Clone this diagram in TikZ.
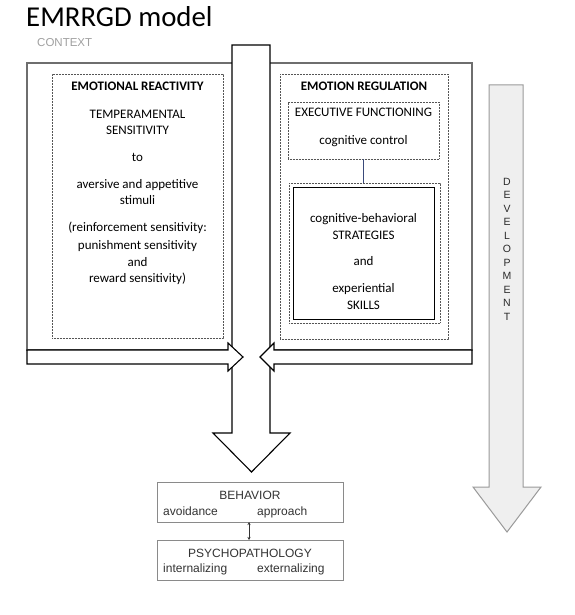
\documentclass[tikz,border=0pt]{standalone}
\usepackage{fontspec}
\setmainfont{Carlito}
\newfontfamily\arialf{Liberation Sans}
\usetikzlibrary{arrows.meta}
\definecolor{ctxgray}{HTML}{6E6E6E}
\definecolor{ctxtext}{HTML}{A0A0A0}
\definecolor{dotgray}{HTML}{555555}
\definecolor{devfill}{HTML}{EFEFEF}
\definecolor{devline}{HTML}{9A9A9A}
\definecolor{botline}{HTML}{8A8A8A}
\definecolor{bottext}{HTML}{333333}
\definecolor{devtext}{HTML}{2A2A2A}
\definecolor{linkblue}{HTML}{3A4A7A}
\tikzset{
  boxnw/.style={inner sep=0pt, outer sep=0pt, anchor=north west},
  ctxbox/.style={boxnw, draw=ctxgray, line width=1.5pt},
  dotbox/.style={boxnw, draw=dotgray, line width=0.6pt, dash pattern=on 0.7pt off 0.8pt},
  solidbox/.style={boxnw, draw=black, line width=0.9pt},
  botbox/.style={boxnw, draw=botline, line width=1pt},
  bigarrow/.style={draw=black, fill=white, line width=1.1pt, line join=miter},
  devarrow/.style={draw=devline, fill=devfill, line width=1pt},
  txt/.style={inner sep=0pt, anchor=base, font=\fontsize{13}{15}\selectfont},
  btxt/.style={txt, font=\fontsize{13}{15}\selectfont\bfseries},
  atxt/.style={inner sep=0pt, anchor=base, text=bottext, font=\arialf\fontsize{12}{14}\selectfont},
  conn/.style={draw=linkblue, line width=0.8pt},
  dbl/.style={draw=bottext, line width=0.6pt, {Stealth[length=3pt,width=3pt]}-{Stealth[length=3pt,width=3pt]}}
}
\begin{document}
\begin{tikzpicture}[x=1pt,y=-1pt]
\useasboundingbox (0,0) rectangle (574,615);
\fill[white] (0,0) rectangle (574,615);
% title and context
\node[inner sep=0pt, anchor=base west, font=\fontsize{28.8}{30}\selectfont] (title) at (26,27) {EMRRGD model};
\node[inner sep=0pt, anchor=base west, text=ctxtext, font=\arialf\fontsize{11.5}{13}\selectfont] (context) at (37,47) {CONTEXT};
% context frame
\node[ctxbox, minimum width=445pt, minimum height=287pt] (ctx) at (27,63) {};
% left: emotional reactivity
\node[dotbox, minimum width=171pt, minimum height=264pt] (er) at (52,74) {};
\node[btxt] (er1) at (137.5,91) {EMOTIONAL REACTIVITY};
\node[txt] (er2) at (137.5,118) {TEMPERAMENTAL};
\node[txt] (er3) at (137.5,135) {SENSITIVITY};
\node[txt] (er4) at (137.5,161) {to};
\node[txt] (er5) at (137.5,188) {aversive and appetitive};
\node[txt] (er6) at (137.5,204) {stimuli};
\node[txt] (er7) at (137.5,231) {(reinforcement sensitivity:};
\node[txt] (er8) at (137.5,249) {punishment sensitivity};
\node[txt] (er9) at (137.5,266) {and};
\node[txt] (er10) at (137.5,282) {reward sensitivity)};
% right: emotion regulation
\node[dotbox, minimum width=168pt, minimum height=265pt] (erg) at (280,74) {};
\node[btxt] (erg1) at (364,91) {EMOTION REGULATION};
\node[dotbox, minimum width=151pt, minimum height=57pt] (exec) at (288,102) {};
\node[txt] (ex1) at (363.5,117) {EXECUTIVE FUNCTIONING};
\node[txt] (ex2) at (363.5,144) {cognitive control};
\node[dotbox, minimum width=151pt, minimum height=140pt] (stratout) at (289,183) {};
\node[solidbox, minimum width=141pt, minimum height=132pt] (strat) at (293,187) {};
\node[txt] (s1) at (363.5,222) {cognitive-behavioral};
\node[txt] (s2) at (363.5,239) {STRATEGIES};
\node[txt] (s3) at (363.5,265) {and};
\node[txt] (s4) at (363.5,292) {experiential};
\node[txt] (s5) at (363.5,309) {SKILLS};
\draw[conn] (exec.south) -- (exec.south |- stratout.north);
% big central arrow
\draw[bigarrow] (232,45) -- (270,45) -- (270,433) -- (290,433) -- (251.5,472) -- (213,433) -- (232,433) -- cycle;
% horizontal arrows
\draw[bigarrow] (27,350) -- (228,350) -- (228,343) -- (243,357) -- (228,371) -- (228,364) -- (27,364) -- cycle;
\draw[bigarrow] (472,350) -- (274,350) -- (274,343) -- (260,357) -- (274,371) -- (274,364) -- (472,364) -- cycle;
% development arrow
\draw[devarrow] (489,85) -- (523,85) -- (523,487) -- (541,487) -- (507,532) -- (473,487) -- (489,487) -- cycle;
\node[inner sep=0pt, anchor=north, align=center, text=devtext, font=\arialf\fontsize{10.5}{13.5}\selectfont] (dev) at (507,178) {D\\E\\V\\E\\L\\O\\P\\M\\E\\N\\T};
% bottom boxes
\node[botbox, minimum width=186pt, minimum height=40pt] (beh) at (157,482) {};
\node[atxt] (b1) at (250,499) {BEHAVIOR};
\node[atxt, anchor=base west] (b2) at (163,515) {avoidance};
\node[atxt, anchor=base west] (b3) at (257,515) {approach};
\node[botbox, minimum width=186pt, minimum height=40pt] (psy) at (157,540) {};
\node[atxt] (p1) at (250,557) {PSYCHOPATHOLOGY};
\node[atxt, anchor=base west] (p2) at (163,572) {internalizing};
\node[atxt, anchor=base west] (p3) at (257,572) {externalizing};
\draw[dbl] ([xshift=-1pt]beh.south) -- ([xshift=-1pt]psy.north);
\end{tikzpicture}
\end{document}
